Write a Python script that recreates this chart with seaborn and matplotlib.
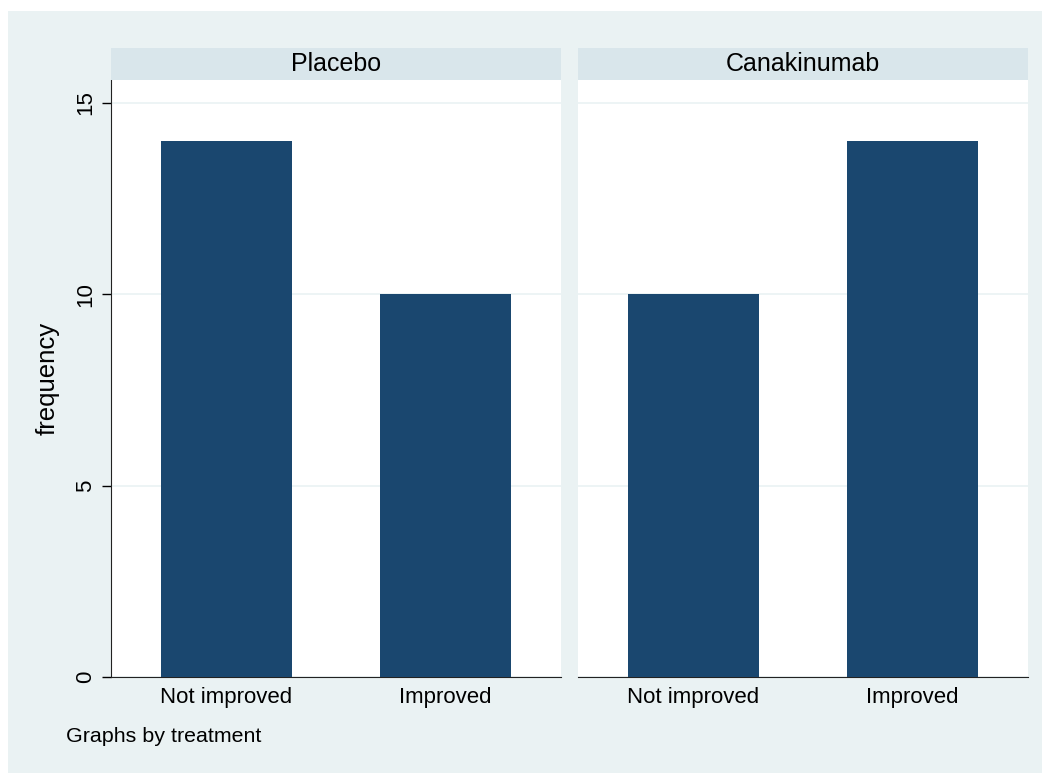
import numpy as np
import pandas as pd
import matplotlib
matplotlib.use("Agg")
import matplotlib.pyplot as plt
import seaborn as sns

treatments = ["Placebo", "Canakinumab"]
outcomes = ["Not improved", "Improved"]
placebo_freq = [14, 10]
canakinumab_freq = [10, 14]

df = pd.DataFrame({
    "treatment": np.repeat(treatments, len(outcomes)),
    "outcome": outcomes * len(treatments),
    "frequency": placebo_freq + canakinumab_freq,
})

sns.set_style("white")
plt.rcParams["font.family"] = ["Liberation Sans", "DejaVu Sans"]
plt.rcParams["text.color"] = "black"
plt.rcParams["axes.labelcolor"] = "black"

bg = "#EAF2F3"
strip = "#D9E6EB"
navy = "#1A476F"

W, H = 1050, 773
fig = plt.figure(figsize=(W / 100, H / 100), dpi=100, facecolor="white")
# light outer panel, behind the axes
fig.patches.append(plt.Rectangle((8 / W, 0), (1042 - 8) / W, 1 - 11 / H,
                                 transform=fig.transFigure, facecolor=bg,
                                 edgecolor="none", zorder=-10))

panels = [(111, 561), (578, 1028)]
top, bottom, strip_top = 80, 677, 48

for i, (t, (x0, x1)) in enumerate(zip(treatments, panels)):
    ax = fig.add_axes([x0 / W, 1 - bottom / H, (x1 - x0) / W, (bottom - top) / H])
    sub = df[df["treatment"] == t]
    sns.barplot(data=sub, x="outcome", y="frequency", order=outcomes,
                color=navy, saturation=1, width=0.6, linewidth=0, ax=ax, zorder=3)
    ax.set_facecolor("white")
    ax.set_xlim(-0.527, 1.527)
    ax.set_ylim(0, 15.6)
    ax.set_yticks([0, 5, 10, 15])
    ax.yaxis.grid(True, color=bg, linewidth=1.2, zorder=0)
    ax.set_axisbelow(True)
    for s in ["top", "right"]:
        ax.spines[s].set_visible(False)
    ax.spines["bottom"].set_color("#222222")
    ax.spines["left"].set_color("#222222")
    ax.tick_params(axis="x", length=0, labelsize=16, pad=7, colors="black")
    ax.set_xlabel("")
    if i == 0:
        ax.tick_params(axis="y", length=6.5, width=1, labelsize=16, pad=4,
                       labelrotation=90, direction="out", left=True, colors="black")
        for lab in ax.get_yticklabels():
            lab.set_verticalalignment("center")
        ax.set_ylabel("frequency", fontsize=18.5)
        ax.yaxis.set_label_coords((60 - x0) / (x1 - x0), 0.5)
    else:
        ax.spines["left"].set_visible(False)
        ax.set_yticklabels([])
        ax.tick_params(axis="y", length=0)
        ax.set_ylabel("")
    # strip header
    sax = fig.add_axes([x0 / W, 1 - top / H, (x1 - x0) / W, (top - strip_top) / H])
    sax.set_facecolor(strip)
    for s in sax.spines.values():
        s.set_visible(False)
    sax.set_xticks([])
    sax.set_yticks([])
    sax.text(0.5, 0.5, t, ha="center", va="center", fontsize=18, transform=sax.transAxes)

fig.text(66 / W, 1 - 737 / H, "Graphs by treatment", fontsize=15.4, ha="left", va="center")

fig.savefig("out.png", dpi=100, facecolor="white")
